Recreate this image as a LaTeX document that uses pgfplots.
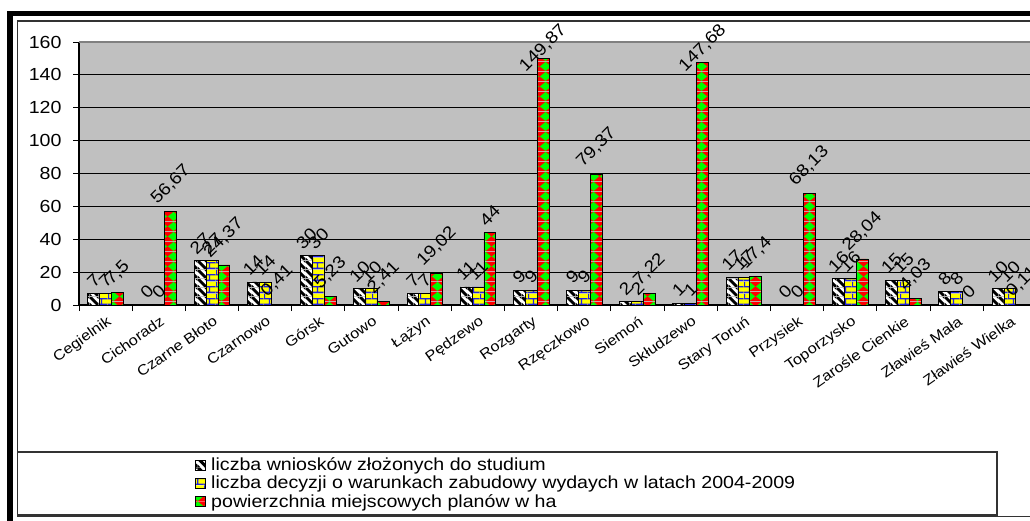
\documentclass[border=0pt]{standalone}
\usepackage{fontspec}
\setmainfont[FakeStretch=1.12]{Liberation Sans}
\usepackage{graphicx}
\usepackage{pgfplots}
\usepackage{pgfplotstable}
\pgfplotsset{compat=1.18}
\usetikzlibrary{patterns}

\definecolor{plotgray}{HTML}{C0C0C0}
\definecolor{bargreen}{HTML}{00FF00}
\definecolor{barred}{HTML}{FF0000}
\definecolor{baryellow}{HTML}{FFFF00}
\definecolor{barblue}{HTML}{2020E0}

% black/white thick diagonal stripes
\pgfdeclarepatterninherentlycolored{wstripes}{\pgfpointorigin}{\pgfqpoint{9pt}{9pt}}{\pgfqpoint{9pt}{9pt}}{%
  \pgfsetfillcolor{white}%
  \pgfpathrectangle{\pgfpointorigin}{\pgfqpoint{9pt}{9pt}}\pgfusepath{fill}%
  \pgfsetfillcolor{black}%
  \pgfpathmoveto{\pgfqpoint{6.75pt}{0pt}}\pgfpathlineto{\pgfqpoint{9pt}{0pt}}\pgfpathlineto{\pgfqpoint{9pt}{2.25pt}}%
  \pgfpathlineto{\pgfqpoint{2.25pt}{9pt}}\pgfpathlineto{\pgfqpoint{0pt}{9pt}}\pgfpathlineto{\pgfqpoint{0pt}{6.75pt}}\pgfpathclose
  \pgfpathmoveto{\pgfqpoint{0pt}{0pt}}\pgfpathlineto{\pgfqpoint{2.25pt}{0pt}}\pgfpathlineto{\pgfqpoint{0pt}{2.25pt}}\pgfpathclose
  \pgfpathmoveto{\pgfqpoint{9pt}{9pt}}\pgfpathlineto{\pgfqpoint{6.75pt}{9pt}}\pgfpathlineto{\pgfqpoint{9pt}{6.75pt}}\pgfpathclose
  \pgfusepath{fill}}
% yellow bricks with blue joints
\pgfdeclarepatterninherentlycolored{ybricks}{\pgfpointorigin}{\pgfqpoint{12pt}{12pt}}{\pgfqpoint{12pt}{12pt}}{%
  \pgfsetfillcolor{baryellow}%
  \pgfpathrectangle{\pgfpointorigin}{\pgfqpoint{12pt}{12pt}}\pgfusepath{fill}%
  \pgfsetstrokecolor{barblue}\pgfsetlinewidth{1.3pt}%
  \pgfpathmoveto{\pgfqpoint{0pt}{0.7pt}}\pgfpathlineto{\pgfqpoint{12pt}{0.7pt}}%
  \pgfpathmoveto{\pgfqpoint{0pt}{6.7pt}}\pgfpathlineto{\pgfqpoint{12pt}{6.7pt}}%
  \pgfpathmoveto{\pgfqpoint{6pt}{0.7pt}}\pgfpathlineto{\pgfqpoint{6pt}{6.7pt}}%
  \pgfpathmoveto{\pgfqpoint{0.7pt}{6.7pt}}\pgfpathlineto{\pgfqpoint{0.7pt}{12pt}}%
  \pgfusepath{stroke}}
% red with green diamonds
\pgfdeclarepatterninherentlycolored{rdiamonds}{\pgfpointorigin}{\pgfqpoint{12pt}{10pt}}{\pgfqpoint{12pt}{10pt}}{%
  \pgfsetfillcolor{barred}%
  \pgfpathrectangle{\pgfpointorigin}{\pgfqpoint{12pt}{10pt}}\pgfusepath{fill}%
  \pgfsetfillcolor{bargreen}%
  \pgfpathmoveto{\pgfqpoint{6pt}{0pt}}\pgfpathlineto{\pgfqpoint{12pt}{5pt}}\pgfpathlineto{\pgfqpoint{6pt}{10pt}}\pgfpathlineto{\pgfqpoint{0pt}{5pt}}\pgfpathclose
  \pgfusepath{fill}}

\pgfplotstableread{
x a b c
0 7 7 7.5
1 0 0 56.67
2 27 27 24.37
3 14 14 0.41
4 30 30 5.23
5 10 10 2.41
6 7 7 19.02
7 11 11 44
8 9 9 149.87
9 9 9 79.37
10 2 2 7.22
11 1 1 147.68
12 17 17 17.4
13 0 0 68.13
14 16 16 28.04
15 15 15 4.03
16 8 8 0
17 10 10 0.11
}\data

\begin{document}
\begin{tikzpicture}[x=1pt,y=1pt]
\useasboundingbox (0,0) rectangle (1030,520);
\clip (0,0) rectangle (1030,520);
% outer frames
\draw[line width=5.4pt] (10,506.5) rectangle (1050,-20);
\draw[line width=1.4pt, black!80] (17.3,499) rectangle (1050,3.5);
% legend box
\draw[line width=1.2pt, black!80, fill=white] (17.3,68) rectangle (997,5);
\begin{axis}[
  at={(79pt,215pt)}, anchor=south west,
  scale only axis, width=957.5pt, height=263pt,
  xmin=-0.5, xmax=17.5, ymin=0, ymax=160,
  clip=false,
  ybar=0pt, bar width=11.9pt,
  axis lines=left, axis line style={-, black, line width=1.3pt},
  axis background/.style={fill=plotgray},
  /pgf/number format/assume math mode=true,
  /pgf/number format/use comma,
  tick align=outside, major tick length=6pt,
  tick style={black, line width=1pt},
  xtick={-0.5,0.5,...,17.5}, xticklabels={},
  extra x ticks={0,1,...,17},
  extra x tick labels={Cegielnik,Cichoradz,Czarne Błoto,Czarnowo,Górsk,Gutowo,Łążyn,Pędzewo,Rozgarty,Rzęczkowo,Siemoń,Skłudzewo,Stary Toruń,Przysiek,Toporzysko,Zarośle Cienkie,Zławieś Mała,Zławieś Wielka},
  extra x tick style={major tick length=0pt, xticklabel style={rotate=35, anchor=north east, font=\fontsize{14.5}{16}\selectfont, yshift=-5pt, xshift=-2pt}},
  ytick={0,20,...,140},
  extra y ticks={160},
  extra y tick style={major grid style={draw=gray, line width=1.5pt}},
  yticklabel style={font=\fontsize{17.5}{20}\selectfont, xshift=-8pt},
  ymajorgrids, major grid style={draw=black, line width=1.2pt},
  nodes near coords={\rotatebox{45}{\pgfmathprintnumber{\pgfplotspointmeta}}},
  every node near coord/.append style={font=\fontsize{17}{19}\selectfont, inner sep=0pt, anchor=south, yshift=5pt, black},
  myleg/.style={legend image code/.code={\draw[##1, draw=black, line width=0.6pt] (0pt,-5pt) rectangle (10pt,5pt);}},
  legend style={at={(0.1211,-0.575)}, anchor=north west, draw=none, fill=none,
    font=\fontsize{17.5}{20}\selectfont, row sep=1pt, inner sep=0pt,
    nodes={inner sep=1.5pt},
    /tikz/every odd column/.append style={column sep=4pt}},
  legend cell align=left,
]
\addplot[draw=black, line width=0.8pt, pattern=wstripes, myleg] table[x=x, y=a] {\data};
\addplot[draw=black, line width=0.8pt, pattern=ybricks, myleg] table[x=x, y=b] {\data};
\addplot[draw=black, line width=0.8pt, pattern=rdiamonds, myleg,
  visualization depends on={rawy\as\rawy},
  every node near coord/.append style={yshift={-max(0,1.644*\rawy-226)}}] table[x=x, y=c] {\data};
\legend{liczba wniosków złożonych do studium,liczba decyzji o warunkach zabudowy wydaych w latach 2004-2009,powierzchnia miejscowych planów w ha}
\end{axis}
\end{tikzpicture}
\end{document}
